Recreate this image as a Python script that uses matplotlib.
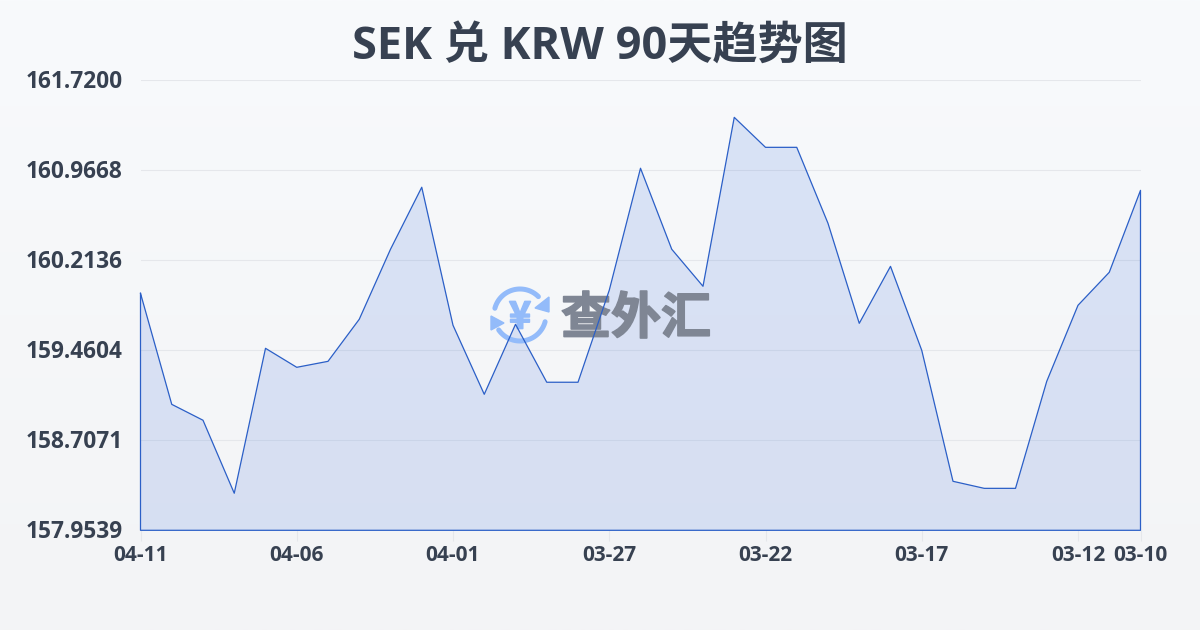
import numpy as np
import matplotlib
matplotlib.use('Agg')
import matplotlib.pyplot as plt
import matplotlib.patheffects as pe
from matplotlib.patches import Polygon
from matplotlib.transforms import ScaledTranslation

plt.rcParams['font.family'] = ['Open Sans', 'Noto Sans CJK SC', 'DejaVu Sans']

# rates, newest first (the x axis runs backwards in time)
rates = [159.937, 159.008, 158.875, 158.264, 159.477, 159.318, 159.368, 159.720,
         160.306, 160.825, 159.670, 159.092, 159.678, 159.193, 159.193, 159.963,
         160.984, 160.306, 159.996, 161.410, 161.159, 161.159, 160.523, 159.686,
         160.163, 159.460, 158.364, 158.305, 158.305, 159.201, 159.837, 160.113,
         160.799]
x_ticks = [0, 5, 10, 15, 20, 25, 30, 32]
x_labels = ['04-11', '04-06', '04-01', '03-27', '03-22', '03-17', '03-12', '03-10']
y_ticks = [157.9539, 158.7071, 159.4604, 160.2136, 160.9668, 161.7200]
y_labels = ['157.9539', '158.7071', '159.4604', '160.2136', '160.9668', '161.7200']

text_color = '#374151'
line_color = '#2b5fc7'
logo_blue = '#93bbfa'
logo_grey = '#7f8694'

fig = plt.figure(figsize=(12, 6.3), dpi=100)

# background layer in pixel coordinates: gradient
bg = fig.add_axes([0, 0, 1, 1], zorder=0)
grad = np.linspace(0, 1, 256).reshape(-1, 1)
top = np.array([248, 250, 252]) / 255
bottom = np.array([243, 244, 246]) / 255
bg.imshow(top + (bottom - top) * grad[..., None], extent=[0, 1200, 630, 0], aspect='auto')
bg.set_xlim(0, 1200)
bg.set_ylim(630, 0)
bg.axis('off')

ax = fig.add_axes([140.5 / 1200, 1 - 530.3 / 630, 1000 / 1200, 450 / 630], zorder=1)
ax.patch.set_alpha(0)

x = np.arange(len(rates))
ymin = y_ticks[0]
ax.fill_between(x, rates, ymin, facecolor='#4172de', alpha=0.16, linewidth=0, zorder=2)
ax.plot(list(x) + [x[-1], x[0], x[0]], rates + [ymin, ymin, rates[0]],
        color=line_color, lw=0.9, clip_on=False, zorder=4)

# watermark sits between the fill and the line, placed in pixels
px = bg.transData
t = np.radians(np.linspace(165, 45, 60))
ax.plot(520 + 26 * np.cos(t), 315 - 26 * np.sin(t), color=logo_blue, lw=3.6,
        solid_capstyle='round', transform=px, clip_on=False, zorder=3)
t = np.radians(np.linspace(215, 345, 60))
ax.plot(520 + 26 * np.cos(t), 315 - 26 * np.sin(t), color=logo_blue, lw=3.6,
        solid_capstyle='round', transform=px, clip_on=False, zorder=3)
ax.add_patch(Polygon([(549, 297), (549, 312), (535, 308)], color=logo_blue, transform=px, zorder=3))
ax.add_patch(Polygon([(491, 316), (491, 330), (504, 323)], color=logo_blue, transform=px, zorder=3))
ax.text(520, 317, '¥', color=logo_blue, fontsize=27, fontweight='bold', ha='center', va='center',
        family='Noto Sans CJK SC', transform=px, zorder=3,
        path_effects=[pe.withStroke(linewidth=1.2, foreground=logo_blue)])
ax.text(636, 319, '查外汇', color=logo_grey, fontsize=36, fontweight='bold', ha='center', va='center',
        family='Noto Sans CJK SC', transform=px, zorder=3,
        path_effects=[pe.withStroke(linewidth=1.2, foreground=logo_grey)])

ax.set_xlim(0, 32)
ax.set_ylim(y_ticks[0], y_ticks[-1])
ax.set_xticks(x_ticks)
ax.set_xticklabels(x_labels, fontsize=15, fontweight='bold', color=text_color)
ax.set_yticks(y_ticks)
ax.set_yticklabels(y_labels, fontsize=16.3, fontweight='bold', color=text_color)
ax.tick_params(axis='x', length=8, width=0.8, color='#e5e7eb', pad=2.5)
ax.tick_params(axis='y', length=0, pad=13)
ax.grid(axis='y', color='#e5e7eb', lw=0.8, zorder=1)
ax.set_axisbelow(True)
for s in ax.spines.values():
    s.set_visible(False)

# y labels sit slightly above their grid lines
up = ScaledTranslation(0, 1.5 / 100, fig.dpi_scale_trans)
for lab in ax.get_yticklabels():
    lab.set_transform(lab.get_transform() + up)

fig.text(0.5, 1 - 47 / 630, 'SEK 兑 KRW 90天趋势图', fontsize=32.5, fontweight='bold',
         color=text_color, ha='center', va='center')

fig.savefig('out.png', dpi=100)
